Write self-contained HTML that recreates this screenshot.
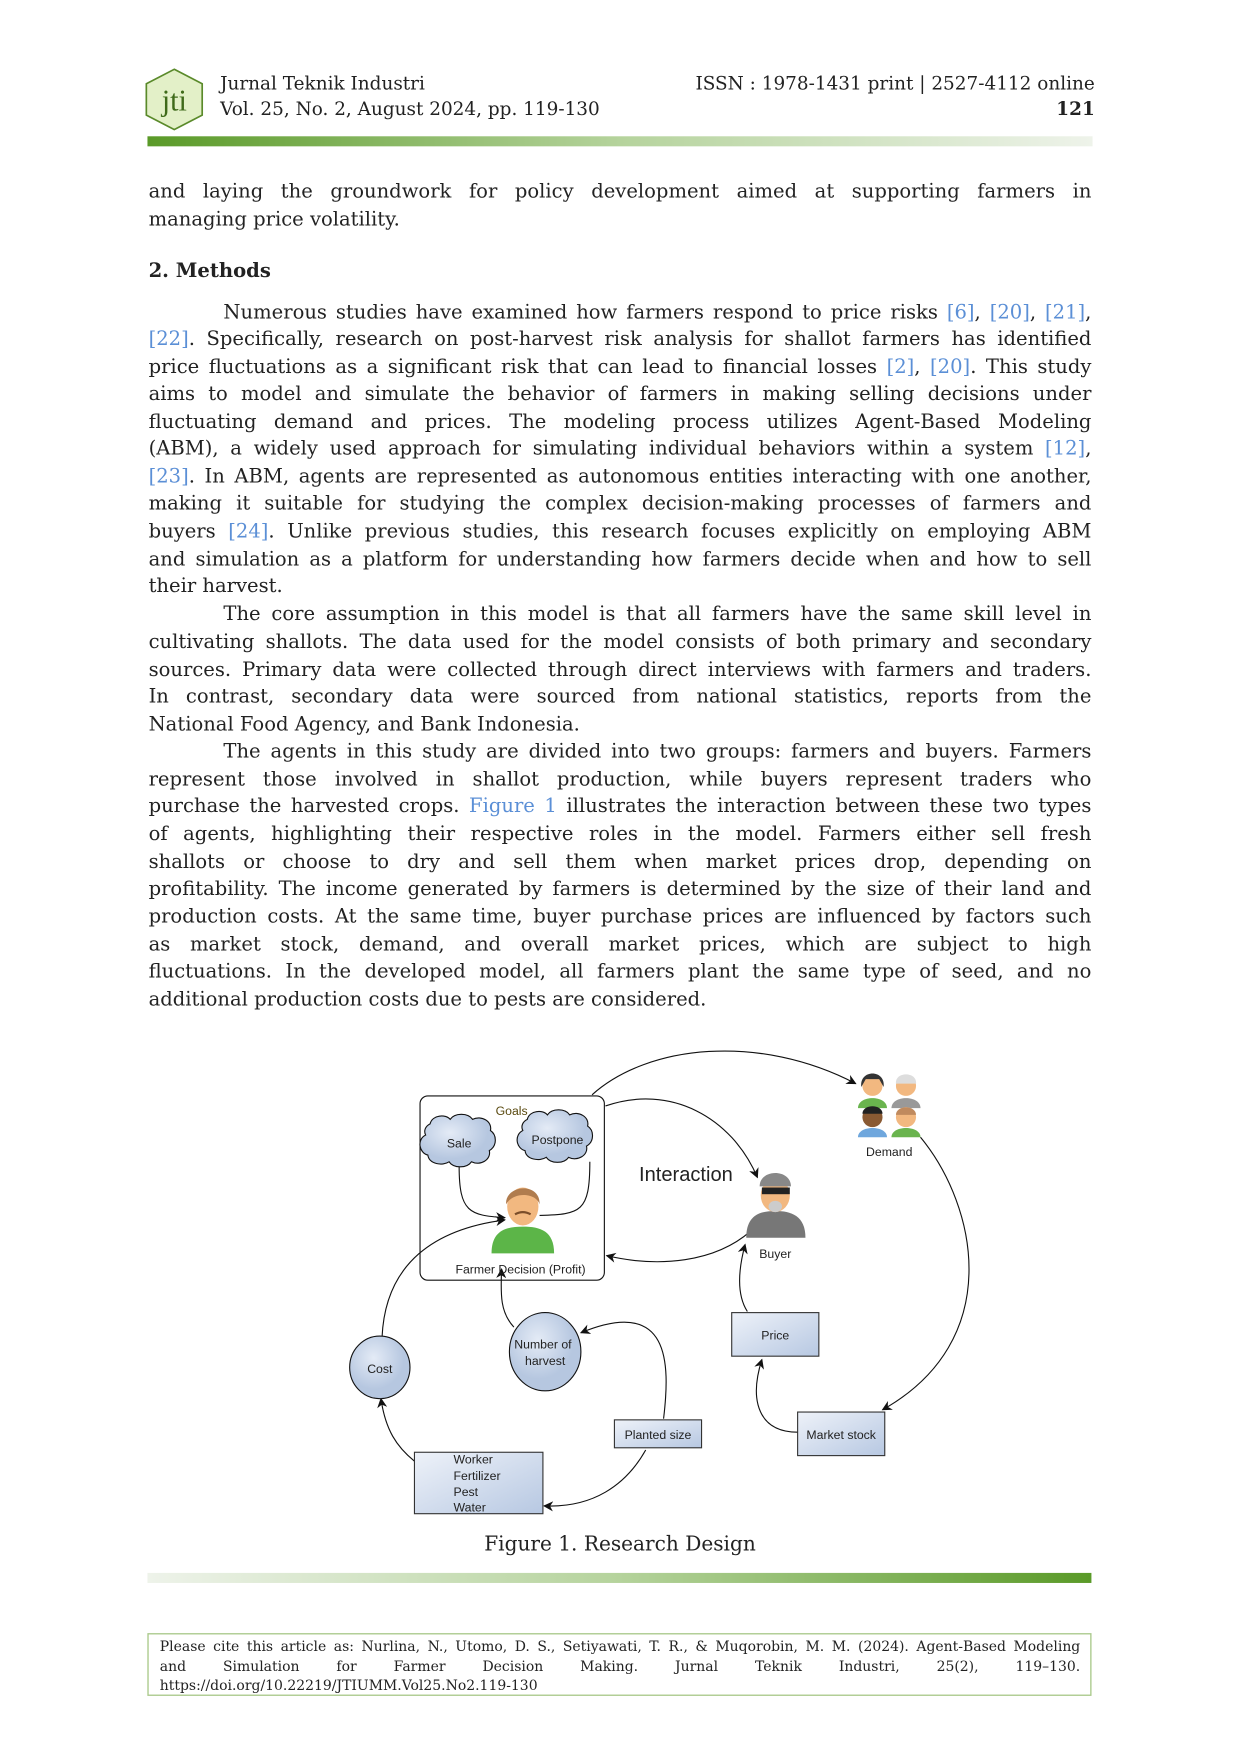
<!DOCTYPE html>
<html><head><meta charset="utf-8">
<style>
html,body{margin:0;padding:0;background:#fff;}
body{width:1240px;height:1754px;overflow:hidden;position:relative;}
#w{position:absolute;left:0;top:0;width:1110px;height:1570px;transform:scale(1.11712);transform-origin:0 0;font-family:"DejaVu Serif","Liberation Serif",serif;color:#222;}
.l{position:absolute;left:133px;width:844px;font-size:17.5px;line-height:24px;margin-top:2px;text-align:justify;text-align-last:justify;white-space:nowrap;}
.l.e{text-align-last:left;}
.a{color:#5b8fd6;}
.h{position:absolute;font-size:16.5px;line-height:20px;margin-top:1px;}
</style></head><body><div id="w">

<svg style="position:absolute;left:0;top:0" width="1110" height="1570">
<defs>
<linearGradient id="g1" x1="0" x2="1"><stop offset="0" stop-color="#5a9a28"/><stop offset="0.5" stop-color="#b5d39c"/><stop offset="1" stop-color="#eef3ea"/></linearGradient>
<linearGradient id="g2" x1="0" x2="1"><stop offset="0" stop-color="#eef3ea"/><stop offset="0.5" stop-color="#b5d39c"/><stop offset="1" stop-color="#5a9a28"/></linearGradient>
<linearGradient id="bx" x1="0" x2="1" y1="0" y2="1"><stop offset="0" stop-color="#eef2f9"/><stop offset="1" stop-color="#b7c8e2"/></linearGradient>
<radialGradient id="ci" cx="0.4" cy="0.35"><stop offset="0" stop-color="#e4ebf6"/><stop offset="1" stop-color="#b6c7e0"/></radialGradient>
<marker id="ar" viewBox="0 0 10 10" refX="9" refY="5" markerWidth="9" markerHeight="9" orient="auto-start-reverse"><path d="M0,0 L10,5 L0,10 L3,5 z" fill="#111"/></marker>
</defs>
<polygon points="156,62 181,75 181,103 156,116 131,103 131,75" fill="#e3f0c8" stroke="#5a8a2a" stroke-width="1.5"/>
<text x="156" y="99" font-family="Liberation Serif,serif" font-size="27" fill="#3f6a1a" text-anchor="middle">jti</text>
<rect x="132" y="122" width="846" height="9" fill="url(#g1)"/>
<rect x="132" y="1408" width="845" height="9" fill="url(#g2)"/>
<rect x="132.5" y="1462.5" width="844" height="55" fill="none" stroke="#a9c98a" stroke-width="1.2"/>

<g font-family="Liberation Sans,sans-serif" fill="none" stroke="#111" stroke-width="1">
<rect x="376" y="981" width="165" height="165" rx="7" fill="#fff"/>
<path d="M530,980 C580,935 680,925 766,970" marker-end="url(#ar)"/>
<path d="M542,990 C600,970 655,1000 678,1054" marker-end="url(#ar)"/>
<path d="M672,1102 C640,1130 590,1135 543,1124" marker-end="url(#ar)"/>
<path d="M411,1044 C411,1085 420,1088 452,1090" marker-end="url(#ar)"/>
<path d="M528,1040 C528,1085 520,1087 483,1088"/>
<path d="M342,1197 C345,1130 390,1100 452,1092" marker-end="url(#ar)"/>
<path d="M460,1188 C448,1175 448,1160 449,1136" marker-end="url(#ar)"/>
<path d="M594,1270 C600,1220 600,1160 520,1193" marker-end="url(#ar)"/>
<path d="M578,1298 C560,1330 530,1350 487,1348" marker-end="url(#ar)"/>
<path d="M371,1308 C355,1295 345,1280 341,1252" marker-end="url(#ar)"/>
<path d="M669,1174 C660,1160 660,1140 667,1114" marker-end="url(#ar)"/>
<path d="M714,1282 C680,1282 670,1255 682,1217" marker-end="url(#ar)"/>
<path d="M824,1018 C875,1080 900,1200 790,1262" marker-end="url(#ar)"/>
<path d="M385,1006 c2,-8 14,-9 18,-4 c4,-6 16,-6 20,0 c8,-4 18,2 16,10 c6,4 6,14 -1,18 c2,8 -8,14 -16,10 c-4,6 -16,6 -20,0 c-6,4 -18,2 -19,-6 c-8,-2 -10,-14 -2,-18 c-2,-4 0,-8 4,-10z" fill="url(#ci)"/>
<path d="M472,1002 c2,-8 14,-9 18,-4 c4,-6 16,-6 20,0 c8,-4 18,2 16,10 c6,4 6,14 -1,18 c2,8 -8,14 -16,10 c-4,6 -16,6 -20,0 c-6,4 -18,2 -19,-6 c-8,-2 -10,-14 -2,-18 c-2,-4 0,-8 4,-10z" fill="url(#ci)"/>
<ellipse cx="340" cy="1224" rx="27" ry="28" fill="url(#ci)"/>
<ellipse cx="488" cy="1210" rx="32" ry="35" fill="url(#ci)"/>
<rect x="655" y="1175" width="78" height="39" fill="url(#bx)" stroke="#333"/>
<rect x="714" y="1264" width="78" height="39" fill="url(#bx)" stroke="#333"/>
<rect x="550" y="1271" width="78" height="25" fill="url(#bx)" stroke="#333"/>
<rect x="371" y="1300" width="115" height="55" fill="url(#bx)" stroke="#333"/>
</g>
<path d="M440,1122 C440,1102 452,1098 468,1098 C484,1098 496,1102 496,1122z" fill="#5cb548"/>
<ellipse cx="468" cy="1080" rx="14" ry="17" fill="#f2b880"/>
<path d="M453,1078 C452,1060 484,1058 483,1078 C480,1068 460,1066 453,1078z" fill="#b07c4e"/>
<path d="M461,1087 q7,-4 14,0" stroke="#7a4d2a" stroke-width="2" fill="none"/>
<path d="M668,1108 C668,1088 680,1084 694,1084 C708,1084 721,1088 721,1108z" fill="#777"/>
<ellipse cx="694" cy="1070" rx="13" ry="15" fill="#f2b880"/>
<path d="M680,1062 C680,1046 708,1046 708,1062z" fill="#888"/>
<rect x="682" y="1063" width="25" height="6" fill="#222"/>
<ellipse cx="694" cy="1080" rx="6" ry="5" fill="#ccc"/>
<g>
<circle cx="781" cy="972" r="9" fill="#f2b880"/><path d="M771,973 C769,957 793,957 791,973 L787,966 L775,966z" fill="#333"/><path d="M768,992 C768,980 794,980 794,992z" fill="#6ab44e"/>
<circle cx="811" cy="972" r="9" fill="#f2b880"/><path d="M802,970 C801,959 821,959 820,970z" fill="#ddd"/><path d="M798,992 C798,980 824,980 824,992z" fill="#999"/>
<circle cx="781" cy="1000" r="9" fill="#8a5a33"/><path d="M772,997 C772,988 790,988 790,997z" fill="#222"/><path d="M768,1018 C768,1007 794,1007 794,1018z" fill="#6fa7dd"/>
<circle cx="811" cy="1000" r="9" fill="#f2b880"/><path d="M802,998 C802,989 820,989 820,998z" fill="#c08a5e"/><path d="M798,1018 C798,1007 824,1007 824,1018z" fill="#6ab44e"/>
</g>
<g font-family="Liberation Sans,sans-serif" fill="#222" font-size="11" text-anchor="middle">
<text x="458" y="998" fill="#5a4a10">Goals</text>
<text x="411" y="1027">Sale</text>
<text x="499" y="1024">Postpone</text>
<text x="466" y="1140">Farmer Decision (Profit)</text>
<text x="694" y="1126">Buyer</text>
<text x="796" y="1035">Demand</text>
<text x="694" y="1199">Price</text>
<text x="753" y="1288">Market stock</text>
<text x="589" y="1288">Planted size</text>
<text x="340" y="1229">Cost</text>
<text x="486" y="1207">Number of</text>
<text x="488" y="1222">harvest</text>
<text x="406" y="1310" text-anchor="start">Worker</text>
<text x="406" y="1325" text-anchor="start">Fertilizer</text>
<text x="406" y="1339" text-anchor="start">Pest</text>
<text x="406" y="1353" text-anchor="start">Water</text>
<text x="614" y="1057" font-size="18">Interaction</text>
</g>
<text x="555" y="1388" font-family="DejaVu Serif,serif" font-size="18" fill="#222" text-anchor="middle">Figure 1. Research Design</text>
</svg>

<div class="h" style="left:197px;top:64px">Jurnal Teknik Industri</div>
<div class="h" style="left:197px;top:87px">Vol. 25, No. 2, August 2024, pp. 119-130</div>
<div class="h" style="right:130px;top:64px;text-align:right">ISSN : 1978-1431 print | 2527-4112 online</div>
<div class="h" style="right:130px;top:87px;text-align:right;font-weight:bold">121</div>

<div class="l" style="top:158px">and laying the groundwork for policy development aimed at supporting farmers in</div>
<div class="l e" style="top:183px">managing price volatility.</div>
<div class="l e" style="top:229px;font-weight:bold">2. Methods</div>

<div class="l" style="top:266px;left:200px;width:777px">Numerous studies have examined how farmers respond to price risks <span class="a">[6]</span>, <span class="a">[20]</span>, <span class="a">[21]</span>,</div>
<div class="l" style="top:290px"><span class="a">[22]</span>. Specifically, research on post-harvest risk analysis for shallot farmers has identified</div>
<div class="l" style="top:315px">price fluctuations as a significant risk that can lead to financial losses <span class="a">[2]</span>, <span class="a">[20]</span>. This study</div>
<div class="l" style="top:339px">aims to model and simulate the behavior of farmers in making selling decisions under</div>
<div class="l" style="top:364px">fluctuating demand and prices. The modeling process utilizes Agent-Based Modeling</div>
<div class="l" style="top:388px">(ABM), a widely used approach for simulating individual behaviors within a system <span class="a">[12]</span>,</div>
<div class="l" style="top:413px"><span class="a">[23]</span>. In ABM, agents are represented as autonomous entities interacting with one another,</div>
<div class="l" style="top:437px">making it suitable for studying the complex decision-making processes of farmers and</div>
<div class="l" style="top:462px">buyers <span class="a">[24]</span>. Unlike previous studies, this research focuses explicitly on employing ABM</div>
<div class="l" style="top:487px">and simulation as a platform for understanding how farmers decide when and how to sell</div>
<div class="l e" style="top:511px">their harvest.</div>

<div class="l" style="top:536px;left:200px;width:777px">The core assumption in this model is that all farmers have the same skill level in</div>
<div class="l" style="top:561px">cultivating shallots. The data used for the model consists of both primary and secondary</div>
<div class="l" style="top:586px">sources. Primary data were collected through direct interviews with farmers and traders.</div>
<div class="l" style="top:610px">In contrast, secondary data were sourced from national statistics, reports from the</div>
<div class="l e" style="top:635px">National Food Agency, and Bank Indonesia.</div>

<div class="l" style="top:659px;left:200px;width:777px">The agents in this study are divided into two groups: farmers and buyers. Farmers</div>
<div class="l" style="top:684px">represent those involved in shallot production, while buyers represent traders who</div>
<div class="l" style="top:708px">purchase the harvested crops. <span class="a">Figure 1</span> illustrates the interaction between these two types</div>
<div class="l" style="top:733px">of agents, highlighting their respective roles in the model. Farmers either sell fresh</div>
<div class="l" style="top:758px">shallots or choose to dry and sell them when market prices drop, depending on</div>
<div class="l" style="top:782px">profitability. The income generated by farmers is determined by the size of their land and</div>
<div class="l" style="top:807px">production costs. At the same time, buyer purchase prices are influenced by factors such</div>
<div class="l" style="top:832px">as market stock, demand, and overall market prices, which are subject to high</div>
<div class="l" style="top:856px">fluctuations. In the developed model, all farmers plant the same type of seed, and no</div>
<div class="l e" style="top:881px">additional production costs due to pests are considered.</div>

<div class="l" style="top:1463px;left:143px;width:824px;font-size:12.5px;line-height:17px">Please cite this article as: Nurlina, N., Utomo, D. S., Setiyawati, T. R., &amp; Muqorobin, M. M. (2024). Agent-Based Modeling</div>
<div class="l" style="top:1481px;left:143px;width:824px;font-size:12.5px;line-height:17px">and Simulation for Farmer Decision Making. Jurnal Teknik Industri, 25(2), 119–130.</div>
<div class="l e" style="top:1498px;left:143px;width:824px;font-size:12.5px;line-height:17px">https://doi.org/10.22219/JTIUMM.Vol25.No2.119-130</div>
</div></body></html>
